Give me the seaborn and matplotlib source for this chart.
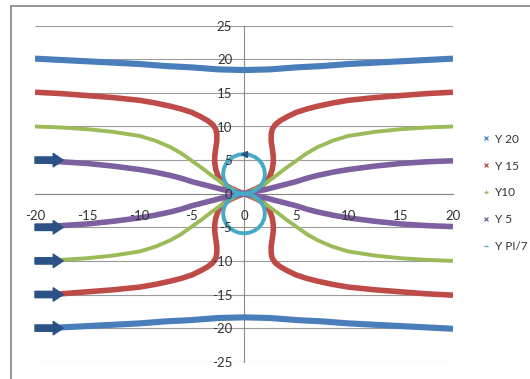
import matplotlib
matplotlib.use("Agg")
import matplotlib.pyplot as plt
from matplotlib.lines import Line2D
import pandas as pd
import seaborn as sns

# Streamline profiles: upper-left quarter of each curve (x from -20 towards 0)
Y20_X = [-20, -17.5, -15, -12.5, -10, -7.5, -5, -2.5, 0]
Y20_Y = [20.1, 19.9, 19.7, 19.5, 19.3, 19.0, 18.8, 18.5, 18.4]

Y15_X = [-20, -17.5, -15, -12.5, -10, -8.5, -7, -6, -5, -4.2, -3.5, -3, -2.7, -2.6,
         -2.6, -2.7, -2.8, -2.8, -2.7, -2.5, -2.2, -1.7, -1.1, -0.5, 0]
Y15_Y = [15.1, 14.9, 14.6, 14.3, 13.9, 13.5, 13.0, 12.6, 12.1, 11.5, 10.9, 10.3, 9.6, 8.8,
         7.8, 6.8, 5.6, 4.6, 3.6, 2.7, 1.9, 1.2, 0.7, 0.3, 0]

Y10_X = [-20, -17.5, -15, -12.5, -10, -8.5, -7, -6, -5, -4, -3, -2, -1, 0]
Y10_Y = [10.0, 9.85, 9.6, 9.2, 8.6, 7.9, 6.9, 6.0, 4.9, 3.8, 2.6, 1.5, 0.6, 0]

Y5_X = [-20, -17.5, -15, -12.5, -10, -8.5, -7, -6, -5, -4, -3, -2, -1, 0]
Y5_Y = [4.9, 4.75, 4.5, 4.1, 3.6, 3.2, 2.7, 2.3, 1.8, 1.4, 1.0, 0.6, 0.3, 0]

# Upper loop of the PI/7 streamline (the lower loop is its mirror image)
LOOP_X = [0, 0.52, 1.00, 1.41, 1.73, 1.93, 2.00, 1.93, 1.73, 1.41, 1.00, 0.52, 0,
          -0.52, -1.00, -1.41, -1.73, -1.93, -2.00, -1.93, -1.73, -1.41, -1.00, -0.52, 0]
LOOP_Y = [0, 0.10, 0.40, 0.86, 1.48, 2.19, 2.95, 3.71, 4.43, 5.04, 5.50, 5.80, 5.90,
          5.80, 5.50, 5.04, 4.43, 3.71, 2.95, 2.19, 1.48, 0.86, 0.40, 0.10, 0]

# Direction arrows at the inflow side
ARROW_Y = [5, -5, -10, -15, -20]
ARROW_X0 = -20
ARROW_X1 = -17.3
LOOP_MARK = (0, 5.9)

SERIES = ["Y 20", "Y 15", "Y10", "Y 5", "Y PI/7"]
COLORS = ["#4A7EBB", "#BE4B48", "#9BBB59", "#7D60A0", "#46AAC5"]
WIDTHS = [4.4, 4.0, 2.8, 4.0, 2.8]
MARKERS = ["x", "x", "+", "x", "_"]
ARROW_COLOR = "#2B5286"

X_TICKS = list(range(-20, 21, 5))
Y_TICKS = list(range(-25, 26, 5))


def rows(series, branch, xs, ys):
    return [dict(series=series, branch=branch, x=a, y=b) for a, b in zip(xs, ys)]


records = []
# Y 20: two open curves spanning the whole width
full_x = Y20_X + [-v for v in reversed(Y20_X[:-1])]
full_y = Y20_Y + list(reversed(Y20_Y[:-1]))
records += rows("Y 20", "up", full_x, full_y)
records += rows("Y 20", "down", full_x, [-v for v in full_y])
# Curves that run into the origin: four quarters each
for name, xs, ys in [("Y 15", Y15_X, Y15_Y), ("Y10", Y10_X, Y10_Y), ("Y 5", Y5_X, Y5_Y)]:
    records += rows(name, "ul", xs, ys)
    records += rows(name, "ur", [-v for v in xs], ys)
    records += rows(name, "ll", xs, [-v for v in ys])
    records += rows(name, "lr", [-v for v in xs], [-v for v in ys])
records += rows("Y PI/7", "up", LOOP_X, LOOP_Y)
records += rows("Y PI/7", "down", LOOP_X, [-v for v in LOOP_Y])
df = pd.DataFrame(records)

sns.set_style("white")
plt.rcParams["font.family"] = ["Lato", "DejaVu Sans"]
plt.rcParams["axes.unicode_minus"] = False

fig = plt.figure(figsize=(5.30, 3.79), dpi=100)
ax = fig.add_axes([35 / 530, 1 - 361.7 / 379, (453 - 35) / 530, (361.7 - 25.7) / 379])

ax.hlines(Y_TICKS, -20, 20, color="#9a9a9a", lw=0.8, zorder=0)

for name, color, lw in zip(SERIES, COLORS, WIDTHS):
    sns.lineplot(data=df[df.series == name], x="x", y="y", units="branch",
                 estimator=None, sort=False, color=color, linewidth=lw,
                 ax=ax, legend=False, zorder=2, solid_capstyle="butt",
                 solid_joinstyle="round")

for y in ARROW_Y:
    ax.annotate("", xy=(ARROW_X1, y), xytext=(ARROW_X0, y),
                arrowprops=dict(arrowstyle="simple,head_length=0.6,head_width=0.8,tail_width=0.38",
                                mutation_scale=12, color=ARROW_COLOR, shrinkA=0, shrinkB=0),
                zorder=4)
ax.plot([LOOP_MARK[0]], [LOOP_MARK[1]], marker="<", ms=5, color=ARROW_COLOR, zorder=4)

ax.set_xlim(-20, 20)
ax.set_ylim(-25, 25)
ax.set_xticks(X_TICKS)
ax.set_yticks(Y_TICKS)
ax.set_xlabel("")
ax.set_ylabel("")
for side in ["top", "right"]:
    ax.spines[side].set_visible(False)
ax.spines["left"].set_position(("data", 0))
ax.spines["bottom"].set_position(("data", 0))
for side in ["left", "bottom"]:
    ax.spines[side].set_color("#8a8a8a")
    ax.spines[side].set_linewidth(0.8)
    ax.spines[side].set_zorder(1)
ax.set_axisbelow(False)
ax.xaxis.set_zorder(5)
ax.yaxis.set_zorder(5)
ax.tick_params(axis="x", direction="inout", length=5, width=0.8, color="#8a8a8a",
               labelsize=9.5, labelcolor="#333333", pad=9)
ax.tick_params(axis="y", direction="inout", length=5, width=0.8, color="#8a8a8a",
               labelsize=9.5, labelcolor="#333333", pad=6)
ax.patch.set_visible(False)

handles = [Line2D([], [], ls="none", marker=m, color=c, markersize=3.2, markeredgewidth=0.9)
           for m, c in zip(MARKERS, COLORS)]
fig.legend(handles, SERIES, loc="center left", bbox_to_anchor=(482 / 530, 1 - 193 / 379),
           frameon=False, fontsize=8.5, handlelength=0.6, handletextpad=0.5,
           labelspacing=1.35, borderpad=0, borderaxespad=0, labelcolor="#333333")

# chart-area border
fig.add_artist(Line2D([11 / 530, 11 / 530], [0, 1 - 6 / 379], transform=fig.transFigure,
                      color="#8c8c8c", lw=1.3))
fig.add_artist(Line2D([11 / 530, 1], [1 - 6 / 379, 1 - 6 / 379], transform=fig.transFigure,
                      color="#8c8c8c", lw=1.3))

fig.savefig("out.png", dpi=100)
